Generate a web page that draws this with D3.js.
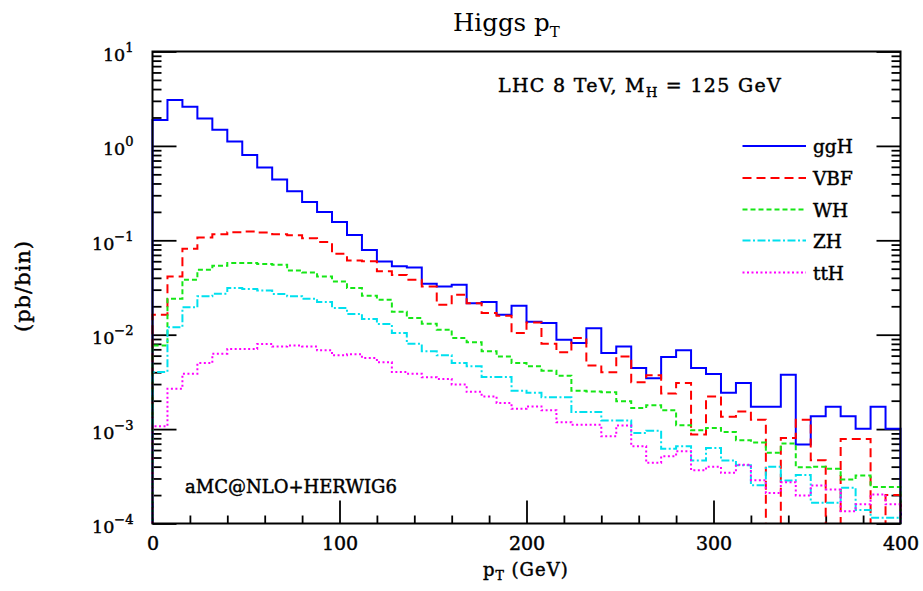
<!DOCTYPE html>
<html>
<head>
<meta charset="utf-8">
<script src="https://cdn.jsdelivr.net/npm/d3@7"></script>
<style>
  body { margin: 0; background: #fff; }
  text { font-family: "DejaVu Serif", serif; fill: #000; stroke: #000; stroke-width: 0.45px; }
</style>
</head>
<body>
<script>
// Higgs pT, 8 GeV bins from 0 to 400 GeV (pb/bin)
var binWidth = 8;
var ggH = [1.88, 3.07, 2.6, 1.95, 1.48, 1.11, 0.80, 0.59, 0.44, 0.33,
           0.254, 0.20, 0.156, 0.114, 0.079, 0.0597, 0.053, 0.0515, 0.0347, 0.0325,
           0.0338, 0.0216, 0.0222, 0.0163, 0.0203, 0.0137, 0.0133, 0.00885, 0.00816, 0.01167,
           0.0064, 0.0075, 0.00445, 0.00345, 0.0058, 0.00683, 0.00445, 0.00384, 0.00242, 0.00308,
           0.00172, 0.00172, 0.00377, 0.000685, 0.00137, 0.00172, 0.00137, 0.00101, 0.00172, 0.00101];
var VBF = [0.0163, 0.0414, 0.0813, 0.107, 0.116, 0.122, 0.124, 0.121, 0.116, 0.113,
           0.105, 0.096, 0.072, 0.061, 0.060, 0.047, 0.043, 0.0382, 0.0324, 0.0207,
           0.0265, 0.0216, 0.017, 0.0159, 0.0104, 0.0135, 0.00803, 0.0065, 0.00922, 0.00473,
           0.00399, 0.00589, 0.00313, 0.00371, 0.00238, 0.00308, 0.000875, 0.00222, 0.00135, 0.00154,
           0.00126, 0, 0.000807, 0.00126, 0.000467, 0, 0.000785, 0.000785, 0, 0.0002];
var WH  = [0.0077, 0.024, 0.0382, 0.0488, 0.0537, 0.0574, 0.0574, 0.056, 0.0551, 0.048,
           0.0457, 0.0414, 0.0367, 0.0312, 0.0259, 0.0235, 0.0175, 0.015, 0.0131, 0.0113,
           0.00922, 0.0083, 0.00666, 0.00589, 0.005, 0.00462, 0.00416, 0.00368, 0.00255, 0.0025,
           0.00245, 0.00197, 0.00167, 0.00179, 0.00158, 0.0011, 0.00097, 0.00103, 0.00093, 0.00076,
           0.00072, 0.00056, 0.000703, 0.000394, 0.0004, 0.00038, 0.000292, 0.000322, 0.000244, 0.000244];
var ZH  = [0.00403, 0.012, 0.0195, 0.0255, 0.0272, 0.0312, 0.0305, 0.0294, 0.027, 0.0255,
           0.024, 0.0222, 0.0192, 0.0166, 0.0147, 0.013, 0.0104, 0.0080, 0.00666, 0.00604,
           0.005, 0.00462, 0.00357, 0.00357, 0.00255, 0.00242, 0.00217, 0.00217, 0.00152, 0.00152,
           0.00123, 0.00123, 0.00091, 0.00096, 0.00062, 0.00066, 0.000465, 0.00063, 0.000465, 0.000414,
           0.000254, 0.000398, 0.000285, 0.000327, 0.000166, 0.000166, 0.000239, 0.000139, 0.000115, 0.000115];
var ttH = [0.00107, 0.00268, 0.00386, 0.005, 0.0063, 0.00706, 0.00706, 0.00798, 0.0075, 0.0077,
           0.0075, 0.00683, 0.00604, 0.0062, 0.00566, 0.0051, 0.00403, 0.00386, 0.00354, 0.0034,
           0.00296, 0.00248, 0.00222, 0.00189, 0.00164, 0.00174, 0.00158, 0.00118, 0.00111, 0.00111,
           0.00084, 0.00109, 0.00066, 0.00044, 0.000515, 0.000582, 0.000366, 0.0004, 0.000344, 0.00042,
           0.000288, 0.000211, 0.000273, 0.000198, 0.000253, 0.000229, 0.000135, 0.00016, 0.000203, 0.00016];

var seriesNames = ["ggH", "VBF", "WH", "ZH", "ttH"];
var seriesValues = [ggH, VBF, WH, ZH, ttH];
var seriesColors = ["#0000ff", "#ff0000", "#16e616", "#00e0ee", "#ff00ff"];
var seriesDash = [null, "9,5", "5,3", "8,2.5,2,2.5", "2,2.5"];

var xMajor = [0, 100, 200, 300, 400];
var xMinor = [20, 40, 60, 80, 120, 140, 160, 180, 220, 240, 260, 280, 320, 340, 360, 380];
var yMajor = [1e-4, 1e-3, 1e-2, 1e-1, 1, 10];
var yMajorExp = ["\u22124", "\u22123", "\u22122", "\u22121", "0", "1"];

var width = 923, height = 591;
var pLeft = 152.5, pRight = 900.5, pTop = 51.5, pBottom = 523.5;

var x = d3.scaleLinear().domain([0, 400]).range([pLeft, pRight]);
var y = d3.scaleLog().domain([1e-4, 10]).range([pBottom, pTop]);

// minor ticks on a log axis: 2..9 times each decade
var yMinor = [];
yMajor.slice(0, -1).forEach(function(d) {
  for (var k = 2; k <= 9; k++) yMinor.push(d * k);
});

var svg = d3.select("body").append("svg")
  .attr("width", width)
  .attr("height", height);

svg.append("defs").append("clipPath").attr("id", "plotclip")
  .append("rect")
  .attr("x", pLeft - 2).attr("y", pTop)
  .attr("width", pRight - pLeft + 4).attr("height", pBottom - pTop);

function tickAxis(gen, tf, vals, size) {
  var g = svg.append("g").attr("transform", tf)
    .call(gen.tickValues(vals).tickSize(size).tickSizeOuter(0).tickFormat(""));
  g.select(".domain").remove();
  g.selectAll(".tick line").attr("stroke", "#000").attr("stroke-width", 1.8);
  return g;
}

// inward ticks: bottom, left, right
tickAxis(d3.axisBottom(x), "translate(0," + pBottom + ")", xMajor, -23);
tickAxis(d3.axisBottom(x), "translate(0," + pBottom + ")", xMinor, -8);
tickAxis(d3.axisLeft(y), "translate(" + pLeft + ",0)", yMajor, -24);
tickAxis(d3.axisLeft(y), "translate(" + pLeft + ",0)", yMinor, -9);
tickAxis(d3.axisRight(y), "translate(" + pRight + ",0)", yMajor, -24);
tickAxis(d3.axisRight(y), "translate(" + pRight + ",0)", yMinor, -9);

// x tick labels
var xlab = svg.append("g").attr("transform", "translate(0," + pBottom + ")")
  .call(d3.axisBottom(x).tickValues(xMajor).tickSize(0).tickPadding(13).tickFormat(d3.format("d")));
xlab.select(".domain").remove();
xlab.selectAll("text").attr("font-size", 19).attr("font-family", "DejaVu Serif");

// y tick labels 10^n
var ylab = svg.append("g").attr("transform", "translate(" + pLeft + ",0)")
  .call(d3.axisLeft(y).tickValues(yMajor).tickSize(0).tickPadding(0).tickFormat(""));
ylab.select(".domain").remove();
ylab.selectAll(".tick").each(function(d, i) {
  var t = d3.select(this).append("text")
    .attr("x", -19).attr("y", 9)
    .attr("text-anchor", "end")
    .attr("font-size", 17.5);
  t.append("tspan").text("10");
  t.append("tspan").attr("dy", -9).attr("font-size", 13).text(yMajorExp[i]);
});

// histograms
var floorVal = 1e-6;
var line = d3.line()
  .x(function(d) { return x(d[0]); })
  .y(function(d) { return y(d[1]); })
  .curve(d3.curveStepAfter);

var plot = svg.append("g").attr("clip-path", "url(#plotclip)");
seriesValues.forEach(function(vals, s) {
  var last = vals[vals.length - 1];
  var pts = [[0, floorVal]];
  vals.forEach(function(v, i) { pts.push([i * binWidth, v > 0 ? v : floorVal]); });
  pts.push([vals.length * binWidth, last > 0 ? last : floorVal]);
  pts.push([vals.length * binWidth, floorVal]);
  plot.append("path")
    .attr("d", line(pts))
    .attr("fill", "none")
    .attr("stroke", seriesColors[s])
    .attr("stroke-width", 2)
    .attr("stroke-dasharray", seriesDash[s]);
});

// frame
svg.append("rect")
  .attr("x", pLeft).attr("y", pTop)
  .attr("width", pRight - pLeft).attr("height", pBottom - pTop)
  .attr("fill", "none").attr("stroke", "#000").attr("stroke-width", 2);

// legend
var legY = [146, 178, 209.5, 240.5, 272.5];
seriesNames.forEach(function(name, s) {
  svg.append("line")
    .attr("x1", 742.5).attr("x2", 806).attr("y1", legY[s]).attr("y2", legY[s])
    .attr("stroke", seriesColors[s]).attr("stroke-width", 2)
    .attr("stroke-dasharray", seriesDash[s]);
  svg.append("text")
    .attr("x", 813).attr("y", legY[s] + 7)
    .attr("font-size", 18.5)
    .text(name);
});

// title (lighter than the rest)
var title = svg.append("text").attr("x", 453).attr("y", 31)
  .attr("font-size", 24.5).style("stroke-width", "0px");
title.append("tspan").text("Higgs p");
title.append("tspan").attr("dy", 6).attr("font-size", 15).text("T");

// annotation
var ann = svg.append("text").attr("x", 498).attr("y", 92)
  .attr("font-size", 19).attr("letter-spacing", 1.3);
ann.append("tspan").text("LHC 8 TeV, M");
ann.append("tspan").attr("dy", 5).attr("font-size", 13).text("H");
ann.append("tspan").attr("dy", -5).text(" = 125 GeV");

svg.append("text")
  .attr("x", 185).attr("y", 493)
  .attr("font-size", 18)
  .text("aMC@NLO+HERWIG6");

// axis titles
var xt = svg.append("text").attr("x", 483).attr("y", 576)
  .attr("font-size", 18).attr("letter-spacing", 1);
xt.append("tspan").text("p");
xt.append("tspan").attr("dy", 4).attr("font-size", 12.5).text("T");
xt.append("tspan").attr("dy", -4).text(" (GeV)");

svg.append("text")
  .attr("transform", "translate(30,286) rotate(-90)")
  .attr("text-anchor", "middle")
  .attr("font-size", 21).attr("letter-spacing", 1)
  .text("(pb/bin)");
</script>
</body>
</html>
